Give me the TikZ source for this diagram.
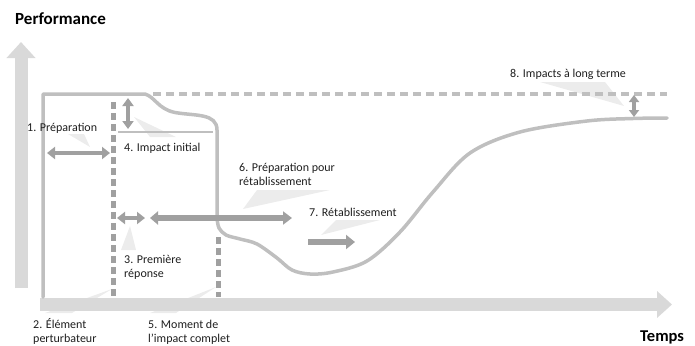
\documentclass[tikz,border=0pt]{standalone}
\usepackage{fontspec}
\setmainfont{Carlito}
\usetikzlibrary{arrows.meta}
\definecolor{axisgray}{RGB}{217,217,217}
\definecolor{curvegray}{RGB}{191,191,191}
\definecolor{arrowgray}{RGB}{160,160,160}
\definecolor{wedgegray}{RGB}{236,236,236}
\definecolor{labelcol}{RGB}{30,30,30}
\begin{document}
\begin{tikzpicture}[x=1pt,y=-1pt,
  lbl/.style={font=\fontsize{12}{14}\selectfont, text=labelcol, inner sep=0pt, anchor=base west, align=left},
  ttl/.style={font=\fontsize{17}{20}\selectfont\bfseries, text=black, inner sep=0pt, anchor=base west},
  axisarrow/.style={draw=axisgray, line width=13pt, -{Triangle[width=28pt,length=16pt]}},
  curveline/.style={draw=curvegray, line width=3.5pt, line cap=round, line join=round},
  dblarrow/.style={draw=arrowgray, line width=4.5pt, {Triangle[width=12pt,length=8pt]}-{Triangle[width=12pt,length=8pt]}},
  bigarrow/.style={draw=arrowgray, line width=6.5pt, -{Triangle[width=14pt,length=9pt]}},
  wedge/.style={fill=wedgegray, draw=none},
  vdash/.style={draw=arrowgray, line width=5pt, dash pattern=on 7pt off 4pt},
  hdash/.style={draw=curvegray, line width=4pt, dash pattern=on 8pt off 5pt}
]
\useasboundingbox (0,0) rectangle (695,345);

% callout wedges
\fill[wedge] (68,134) -- (84,134) -- (90,147) -- cycle;
\fill[wedge] (134,117) -- (150,137) -- (176,137) -- cycle;
\fill[wedge] (130,226) -- (121,250) -- (136,250) -- cycle;
\fill[wedge] (112,289) -- (45,313) -- (72,313) -- cycle;
\fill[wedge] (216,287) -- (150,313) -- (176,313) -- cycle;
\fill[wedge] (243,209) -- (257,190) -- (330,190) -- cycle;
\fill[wedge] (321,235) -- (336,220) -- (380,220) -- cycle;
\fill[wedge] (624,106) -- (540,82) -- (605,82) -- cycle;

% axes
\coordinate (ybot) at (21,288);
\coordinate (ytop) at (21,42);
\coordinate (xleft) at (40,304.5);
\coordinate (xright) at (672,304.5);
\draw[axisarrow] (ybot) -- (ytop);
\draw[axisarrow, -{Triangle[width=26pt,length=15pt]}] (xleft) -- (xright);

% reference level (dashed)
\coordinate (ref0) at (153,94);
\coordinate (ref1) at (667,94);
\draw[hdash] (ref0) -- (ref1);

% performance curve
\draw[curveline] (43,297) -- (43,94) -- (145,94)
  .. controls (155,97) and (158,109) .. (175,112.5)
  .. controls (195,116) and (217,113) .. (217,130) -- (217,220);
\draw[curveline] plot[smooth, tension=0.55] coordinates {(217,218) (219,228) (226,235) (240,239) (257,244) (277,258) (292,270) (310,274) (333,272) (367,261) (400,232) (433,192) (470,153) (520,132) (587,121) (633,118.5) (667,118)};
% initial impact level
\draw[curvegray, line width=1.6pt] (118,132) -- (213,132);

% vertical dashed lines
\coordinate (d1top) at (113.5,102);
\coordinate (d1bot) at (113.5,297);
\coordinate (d2top) at (218,237);
\coordinate (d2bot) at (218,297);
\draw[vdash] (d1top) -- (d1bot);
\draw[vdash] (d2top) -- (d2bot);

% arrows
\coordinate (a1l) at (47,153);  \coordinate (a1r) at (110,153);
\coordinate (a4t) at (128,98);  \coordinate (a4b) at (128,129);
\coordinate (a3l) at (117,218); \coordinate (a3r) at (145,218);
\coordinate (a6l) at (150,218); \coordinate (a6r) at (292,218);
\coordinate (a7l) at (308,242); \coordinate (a7r) at (355,242);
\coordinate (a8t) at (634,95);  \coordinate (a8b) at (634,117);
\draw[dblarrow] (a1l) -- (a1r);
\draw[dblarrow, {Triangle[width=11pt,length=8pt]}-{Triangle[width=11pt,length=8pt]}] (a4t) -- (a4b);
\draw[dblarrow] (a3l) -- (a3r);
\draw[dblarrow, line width=6pt, {Triangle[width=13pt,length=8pt]}-{Triangle[width=13pt,length=9pt]}] (a6l) -- (a6r);
\draw[bigarrow] (a7l) -- (a7r);
\draw[dblarrow, line width=4pt, {Triangle[width=10pt,length=7pt]}-{Triangle[width=10pt,length=7pt]}] (a8t) -- (a8b);

% titles
\node[ttl] (perf) at (15,24.5) {Performance};
\node[ttl, font=\fontsize{16.5}{20}\selectfont\bfseries] (temps) at (640,341) {Temps};

% labels (multi-line nodes: base anchor sits at the bottom of the last line)
\node[lbl] (l1) at (27,131) {1. Préparation};
\node[lbl, font=\fontsize{12}{13.5}\selectfont] (l2) at (33,342) {2. Élément\\perturbateur};
\node[lbl] (l3) at (124,277) {3. Première\\réponse};
\node[lbl] (l4) at (124,151) {4. Impact initial};
\node[lbl, font=\fontsize{12}{13.5}\selectfont] (l5) at (148,342) {5. Moment de\\l’impact complet};
\node[lbl] (l6) at (239,185) {6. Préparation pour\\rétablissement};
\node[lbl] (l7) at (309,216) {7. Rétablissement};
\node[lbl] (l8) at (510,77) {8. Impacts à long terme};
\end{tikzpicture}
\end{document}
